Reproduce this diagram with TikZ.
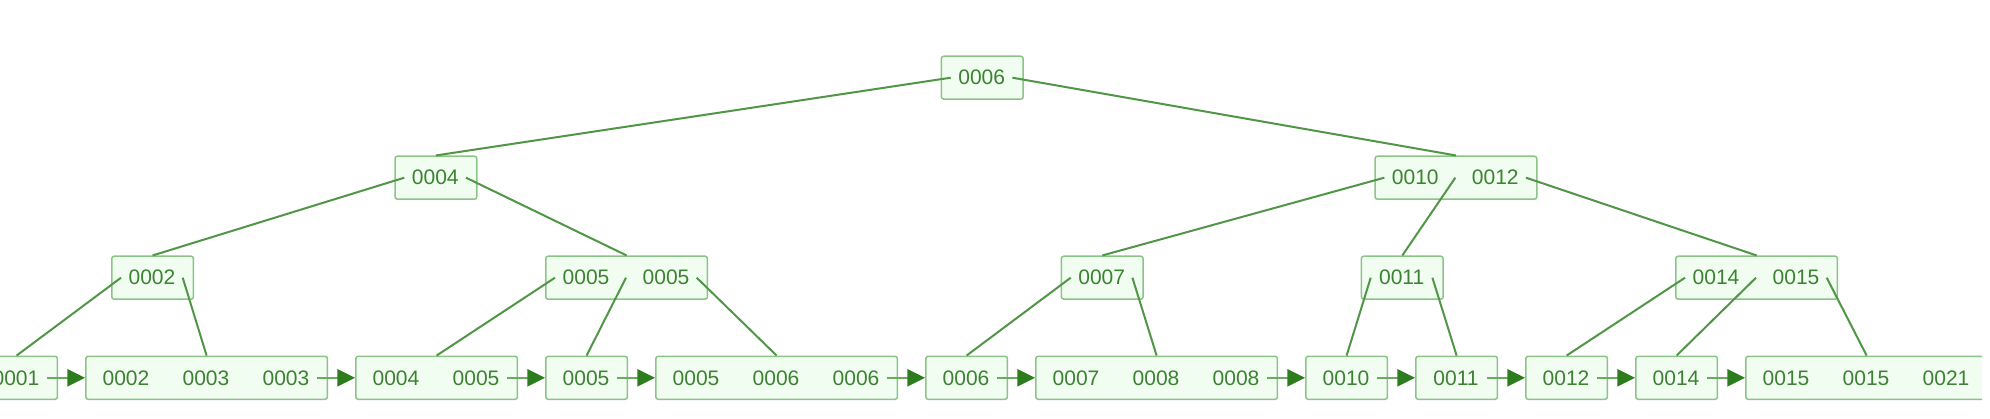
\documentclass[tikz,border=0pt]{standalone}
\usepackage{fontspec}
\setmainfont{Liberation Sans}
\usetikzlibrary{arrows.meta}
\definecolor{boxfill}{RGB}{240,253,240}
\definecolor{boxborder}{RGB}{140,196,136}
\definecolor{edgecol}{RGB}{80,150,70}
\definecolor{keycol}{RGB}{60,130,50}
\definecolor{arrline}{RGB}{105,172,95}
\definecolor{arrhead}{RGB}{45,125,30}
\tikzset{
  keybox/.style={draw=boxborder, fill=boxfill, line width=0.75pt, rounded corners=1.2pt,
    minimum height=21.5pt, inner sep=0pt, anchor=west},
  keytext/.style={inner sep=0pt, text=keycol, font=\fontsize{10.5}{12}\selectfont},
  treeedge/.style={draw=edgecol, line width=1pt},
  leafarrow/.style={draw=arrline, line width=1pt, -{Triangle[length=8.8pt,width=8.5pt,color=arrhead]}}
}
% #1 name, #2 left x (px), #3 centre y (px), #4 number of keys, #5 keys
\newcommand\BNode[5]{%
  \node[keybox, minimum width={(80*#4+1.7)*0.5pt}] (#1) at (#2,#3) {};
  \foreach \k [count=\i] in {#5} {
    \node[keytext] (#1-k\i) at ({#2+41+80*(\i-1)},#3) {\k};
  }
  \coordinate (#1-p0) at ({#2+10},#3);
  \foreach \i in {1,...,#4} {
    \pgfmathsetmacro\px{\i<#4 ? #2+1+80*\i : #2+80*\i-8.3}
    \coordinate (#1-p\i) at (\px,#3);
  }%
}
\begin{document}
\begin{tikzpicture}[x=0.5pt,y=-0.5pt]
\path[use as bounding box, fill=white] (0,0) rectangle (1990,418);
\clip (0,0) rectangle (1982,418);
% root
\BNode{r}{940.7}{77.7}{1}{0006}
% level 2
\BNode{a}{394.3}{177.7}{1}{0004}
\BNode{b}{1374.3}{177.7}{2}{0010,0012}
% level 3
\BNode{c1}{111}{277.7}{1}{0002}
\BNode{c2}{545}{277.7}{2}{0005,0005}
\BNode{c3}{1060.7}{277.7}{1}{0007}
\BNode{c4}{1360.7}{277.7}{1}{0011}
\BNode{c5}{1675}{277.7}{2}{0014,0015}
% leaves
\BNode{l1}{-25}{377.8}{1}{0001}
\BNode{l2}{85}{377.8}{3}{0002,0003,0003}
\BNode{l3}{355}{377.8}{2}{0004,0005}
\BNode{l4}{545}{377.8}{1}{0005}
\BNode{l5}{655}{377.8}{3}{0005,0006,0006}
\BNode{l6}{925}{377.8}{1}{0006}
\BNode{l7}{1035}{377.8}{3}{0007,0008,0008}
\BNode{l8}{1305}{377.8}{1}{0010}
\BNode{l9}{1415}{377.8}{1}{0011}
\BNode{l10}{1525}{377.8}{1}{0012}
\BNode{l11}{1635}{377.8}{1}{0014}
\BNode{l12}{1745}{377.8}{3}{0015,0015,0021}
% tree edges
\draw[treeedge] (r-p0) -- (a.north);
\draw[treeedge] (r-p1) -- (b.north);
\draw[treeedge] (a-p0) -- (c1.north);
\draw[treeedge] (a-p1) -- (c2.north);
\draw[treeedge] (b-p0) -- (c3.north);
\draw[treeedge] (b-p1) -- (c4.north);
\draw[treeedge] (b-p2) -- (c5.north);
\draw[treeedge] (c1-p0) -- (l1.north);
\draw[treeedge] (c1-p1) -- (l2.north);
\draw[treeedge] (c2-p0) -- (l3.north);
\draw[treeedge] (c2-p1) -- (l4.north);
\draw[treeedge] (c2-p2) -- (l5.north);
\draw[treeedge] (c3-p0) -- (l6.north);
\draw[treeedge] (c3-p1) -- (l7.north);
\draw[treeedge] (c4-p0) -- (l8.north);
\draw[treeedge] (c4-p1) -- (l9.north);
\draw[treeedge] (c5-p0) -- (l10.north);
\draw[treeedge] (c5-p1) -- (l11.north);
\draw[treeedge] (c5-p2) -- (l12.north);
% leaf chain
\draw[leafarrow] (l1-p1) -- (l2.west);
\draw[leafarrow] (l2-p3) -- (l3.west);
\draw[leafarrow] (l3-p2) -- (l4.west);
\draw[leafarrow] (l4-p1) -- (l5.west);
\draw[leafarrow] (l5-p3) -- (l6.west);
\draw[leafarrow] (l6-p1) -- (l7.west);
\draw[leafarrow] (l7-p3) -- (l8.west);
\draw[leafarrow] (l8-p1) -- (l9.west);
\draw[leafarrow] (l9-p1) -- (l10.west);
\draw[leafarrow] (l10-p1) -- (l11.west);
\draw[leafarrow] (l11-p1) -- (l12.west);
\end{tikzpicture}
\end{document}
